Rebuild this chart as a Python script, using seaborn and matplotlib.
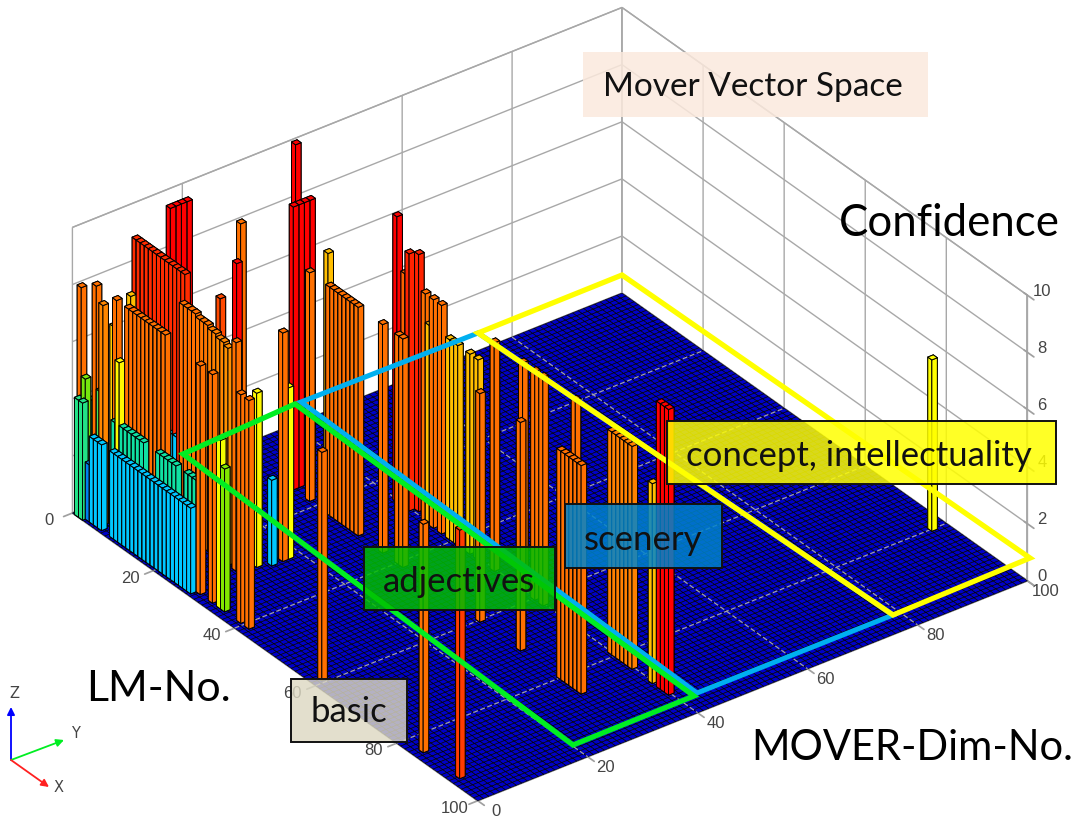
import numpy as np
import matplotlib
matplotlib.use("Agg")
import matplotlib.pyplot as plt
from matplotlib.colors import LinearSegmentedColormap, to_rgba
from matplotlib.patches import Rectangle, Polygon
from mpl_toolkits.mplot3d import proj3d
import seaborn as sns

# --- rows of bars, one dim value per row ---
cyan_lm = [4, 5, 6, 9, 10, 11, 12, 13, 14, 15, 16, 17, 18, 19, 20, 21, 22, 23, 24, 25, 26, 27, 28]
cyan_conf = [3.0, 3.0, 3.0, 3.0, 3.0, 3.0, 3.0, 3.0, 3.0, 3.0, 3.0, 3.0, 3.0, 3.0, 3.0, 3.0, 3.0, 3.0, 3.0, 3.0, 3.0, 3.0, 3.0]
teal_lm = [8, 9, 10, 11, 12, 13, 14, 15, 19, 20, 21, 22, 23, 26, 27, 28]
teal_conf = [3.9, 3.9, 3.9, 3.9, 3.9, 3.9, 3.9, 3.9, 3.9, 3.9, 3.9, 3.9, 3.9, 3.9, 3.9, 3.9]
dim2_lm = [29, 32, 34, 35, 39, 41, 59, 84, 93]
dim2_conf = [8, 8, 5.9, 5, 8, 8, 8, 8, 8.7]
dim3_lm = [10, 11, 12, 13, 14, 15, 16, 17, 18, 19]
dim3_conf = [8, 8, 8, 8, 8, 8, 8, 8, 8, 8]
dim10_lm = [14, 15, 16, 17, 18, 19, 20, 21, 22, 23, 24, 25, 27]
dim10_conf = [8, 8, 8, 8, 7.9, 7.9, 7.9, 7.8, 7.8, 7.7, 7.7, 7.6, 8]
dim11_lm = [1, 2, 3, 4, 5, 6, 7, 8, 9, 10, 11, 12, 13]
dim11_conf = [8.9, 8.9, 8.9, 8.9, 8.9, 8.9, 8.9, 8.9, 8.9, 8.9, 8.9, 8.9, 8.9]
dim30_lm = [1, 18, 23, 24, 25, 26, 27, 28, 29, 30, 36, 40, 41, 60, 70, 80, 81, 82, 83, 84, 85]
dim30_conf = [8, 8, 8, 8, 8, 8, 8, 8, 8, 8, 8, 8, 8, 8, 8, 8, 8, 8, 8, 8, 8]
dim40_lm = [1, 9, 26, 28, 29, 33, 34, 35, 37, 39, 40, 41, 44, 46, 50, 57, 60, 62, 70, 79, 80, 81, 82, 83, 84, 89, 91, 92, 93]
dim40_conf = [10, 7, 10, 8.2, 9, 8, 7, 8, 8, 7, 7, 7, 7, 7, 8, 8, 8, 8, 8, 7.8, 7.8, 7.8, 7.8, 7.8, 7.8, 7, 10, 10, 10]

# --- the loose bars ---
loose_lm = [2, 3, 1, 2, 1, 1, 3, 2, 1, 7, 5, 5, 9, 1, 14, 14, 14, 14, 4, 4, 4, 4, 19, 19, 10, 11, 28, 29, 28, 29, 29, 30, 80]
loose_dim = [0.5, 1, 0.5, 1, 3, 3.5, 3, 3, 1, 3, 2, 4, 2, 10, 30, 31, 32, 33, 15, 16, 17, 18, 13, 16, 11, 11, 13, 15, 17, 18, 17, 41, 97.5]
loose_conf = [4.1, 2, 4.1, 4.9, 3.9, 3.8, 4.4, 8, 8, 8, 7.7, 6.8, 6.1, 7, 9.9, 9.9, 9.9, 9.9, 10, 10, 10, 10, 8.5, 9.5, 3, 3, 6.1, 3, 2, 6, 8, 9, 6]

tick_vals = [0, 20, 40, 60, 80, 100]
z_ticks = [0, 2, 4, 6, 8, 10]

mover_box = [(478, 333), (622, 275), (1030, 558), (893, 615)]
scenery_box = [(301, 402), (478, 333), (893, 615), (697, 693)]
adjective_box = [(183, 454), (295, 404), (694, 696), (573, 745)]

sns.set_theme(style="white")
plt.rcParams['font.family'] = ['Lato', 'DejaVu Sans']

conf_cmap = LinearSegmentedColormap.from_list("conf", [(0.0, '#0000c8'), (0.2, '#0080f0'), (0.3, '#00c8ff'),
                                                       (0.39, '#10e0a0'), (0.5, '#80e800'), (0.6, '#ffff00'),
                                                       (0.7, '#ffc000'), (0.8, '#ff7000'), (0.89, '#ff2c00'),
                                                       (0.95, '#ff0000'), (1.0, '#ff0000')])

rows = [(cyan_lm, [1] * len(cyan_lm), cyan_conf),
        (teal_lm, [2] * len(teal_lm), teal_conf),
        (dim2_lm, [2] * len(dim2_lm), dim2_conf),
        (dim3_lm, [3] * len(dim3_lm), dim3_conf),
        (dim10_lm, [10] * len(dim10_lm), dim10_conf),
        (dim11_lm, [11] * len(dim11_lm), dim11_conf),
        (dim30_lm, [30] * len(dim30_lm), dim30_conf),
        (dim40_lm, [40] * len(dim40_lm), dim40_conf),
        (loose_lm, loose_dim, loose_conf)]
bars = [b for r in rows for b in zip(*r)]
# back to front, the camera looks from high lm / low dim
bars.sort(key=lambda b: 0.8 * b[0] - 0.6 * b[1])

fig = plt.figure(figsize=(10.77, 8.22), dpi=100)
S = 991
ax = fig.add_axes([41 / 1077, (822 - 913) / 822, S / 1077, S / 822], projection='3d', computed_zorder=False)
ax.set_proj_type('ortho')
ax.view_init(elev=32.2, azim=-36.9, roll=0)
ax.set_box_aspect((1, 1.018, 0.5))
ax.patch.set_alpha(0)

xx, yy = np.meshgrid(np.arange(0, 101), np.arange(0, 101))
ax.plot_surface(xx, yy, np.zeros_like(xx), rstride=1, cstride=1, color='#0000c8', edgecolor='black',
                linewidth=0.45, shade=False, zorder=1)
for t in tick_vals[1:-1]:
    ax.plot([t, t], [0, 100], [0, 0], color='#a0a0b0', lw=0.9, ls=(0, (4, 2)), zorder=2)
    ax.plot([0, 100], [t, t], [0, 0], color='#a0a0b0', lw=0.9, ls=(0, (4, 2)), zorder=2)

for i, (lm, dim, conf) in enumerate(bars):
    ax.bar3d(lm - 0.5, dim - 0.5, 0, 1, 1, conf, color=conf_cmap(conf / 10), edgecolor='black',
             linewidth=0.7, shade=False, zorder=3 + i)

ax.set_xlim(0, 100)
ax.set_ylim(0, 100)
ax.set_zlim(0, 10)
ax.set_xticks(tick_vals)
ax.set_yticks(tick_vals)
ax.set_zticks(z_ticks)
ax.tick_params(colors='#a0a0a0')
ax.zaxis.set_ticks_position('upper')
for a in (ax.xaxis, ax.yaxis, ax.zaxis):
    a.set_pane_color((1, 1, 1, 1))
    a.pane.set_edgecolor('#a8a8a8')
    a._axinfo['grid']['color'] = '#a8a8a8'
    a._axinfo['grid']['linewidth'] = 1.0
    a.line.set_color('#a8a8a8')
    for tk in a.get_major_ticks():
        tk.label1.set_visible(False)
        tk.label2.set_visible(False)

# tick labels sit a little off the default spot, so place them from the axes projection
tick_font = dict(fontsize=12, color='#444444', ha='center', va='center',
                 family=['Liberation Sans Narrow', 'Liberation Sans'], zorder=1000)
M = ax.get_proj()


def label3d(x, y, z, s):
    px, py, _ = proj3d.proj_transform(x, y, z, M)
    ax.text2D(px, py, s, transform=ax.transData, **tick_font)


for t in tick_vals:
    label3d(t, -4.2, 0.05, str(t))
    label3d(104.5, t, 0.07, str(t))
for t in z_ticks:
    label3d(100, 102.7, t - 0.07, str(t))

# overlay in picture pixels, for the boxes and captions put on top of the plot
ov = fig.add_axes([0, 0, 1, 1], zorder=10)
ov.set_xlim(0, 1077)
ov.set_ylim(822, 0)
ov.axis('off')

ov.add_patch(Polygon(scenery_box, closed=True, fill=False, ec='#00b0f0', lw=3.6, joinstyle='miter'))
ov.add_patch(Polygon(mover_box, closed=True, fill=False, ec='#ffff00', lw=3.8, joinstyle='miter'))
ov.add_patch(Polygon(adjective_box, closed=True, fill=False, ec='#00ee22', lw=3.8, joinstyle='miter'))

ov.add_patch(Rectangle((583, 52), 345, 65, fc='#fbe9dd', alpha=0.85, ec='none'))
ov.text(753, 87, "Mover Vector Space", fontsize=24, ha='center', va='center', color='#111111')
ov.text(949, 223, "Confidence", fontsize=31.5, ha='center', va='center', color='black')
ov.text(159, 689, "LM-No.", fontsize=31, ha='center', va='center', color='black')
ov.text(912, 748, "MOVER-Dim-No.", fontsize=30, ha='center', va='center', color='black')

labels = [((667, 421), 389, 63, '#ffff00', 0.85, "concept, intellectuality", (859, 456)),
          ((565, 504), 157, 64, '#0084cc', 0.85, "scenery", (643, 540)),
          ((364, 547), 191, 63, '#00c000', 0.85, "adjectives", (459, 582)),
          ((291, 679), 116, 63, '#ddd9c3', 0.82, "basic", (349, 712))]
for xy, w, h, col, alpha, txt, pos in labels:
    ov.add_patch(Rectangle(xy, w, h, fc=to_rgba(col, alpha), ec='#111111', lw=1.4))
    ov.text(pos[0], pos[1], txt, fontsize=25, ha='center', va='center', color='#111111')

# little xyz triad bottom left
for end, col, name, pos in [((11, 707), '#0000ff', 'Z', (14, 693)),
                            ((64, 740), '#00ee22', 'Y', (75, 733)),
                            ((49, 787), '#ff2020', 'X', (59, 787))]:
    ov.annotate("", xy=end, xytext=(11, 760), arrowprops=dict(arrowstyle='-|>', color=col, lw=1.3, mutation_scale=11, shrinkA=0, shrinkB=0))
    ov.text(pos[0], pos[1], name, fontsize=10.5, ha='center', va='center', color='#444444', family='DejaVu Sans')

fig.savefig("out.png", dpi=100)
